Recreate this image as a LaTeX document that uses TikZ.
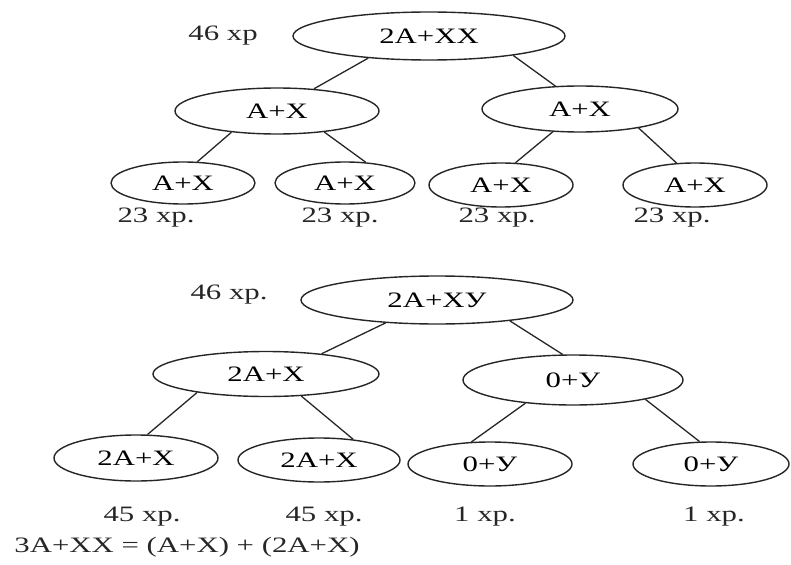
\documentclass[tikz,border=0pt]{standalone}
\usepackage{fontspec}
\setmainfont[FakeStretch=1.4]{Liberation Serif}
\usetikzlibrary{shapes.geometric, positioning}

\begin{document}
\begin{tikzpicture}[
      x=1pt, y=-1pt,
      font=\fontsize{22}{26}\selectfont,
      set/.style={ellipse, draw=black!85, line width=1.4pt, inner sep=0pt},
      link/.style={draw=black!85, line width=1.3pt},
      count/.style={inner sep=0pt, text=black!85}
  ]
  \useasboundingbox (0,0) rectangle (791,564);

  % female: 2A+XX
  \node[count] (n1) at (223,36) {46 хр};
  \node[set, minimum width=272pt, minimum height=48pt] (r1) at (429,36) {2A+XX};
  \node[set, minimum width=204pt, minimum height=46pt] (a1) at (277,111) {A+X};
  \node[set, minimum width=196pt, minimum height=46pt] (a2) at (580,109) {A+X};
  \node[set, minimum width=144pt, minimum height=42pt] (b1) at (183,183) {A+X};
  \node[set, minimum width=140pt, minimum height=42pt] (b2) at (345,183) {A+X};
  \node[set, minimum width=144pt, minimum height=44pt] (b3) at (501,185) {A+X};
  \node[set, minimum width=144pt, minimum height=44pt] (b4) at (695,185) {A+X};
  \node[count] (c1) at (156,218) {23 хр.};
  \node[count] (c2) at (340,218) {23 хр.};
  \node[count] (c3) at (497,218) {23 хр.};
  \node[count] (c4) at (672,218) {23 хр.};

  \draw[link] (r1.200) -- (a1.31);
  \draw[link] (r1.347) -- (a2.137);
  \draw[link] (a1.205) -- (b1.56);
  \draw[link] (a1.336) -- (b2.45);
  \draw[link] (a2.220) -- (b3.57);
  \draw[link] (a2.342) -- (b4.130);

  % male: 2A+XY
  \node[count] (n2) at (229,295) {46 хр.};
  \node[set, minimum width=272pt, minimum height=48pt] (r2) at (437,300) {2A+XУ};
  \node[set, minimum width=226pt, minimum height=45pt] (d1) at (266,374) {2A+X};
  \node[set, minimum width=220pt, minimum height=50pt] (d2) at (573,380) {0+У};
  \node[set, minimum width=164pt, minimum height=46pt] (e1) at (136,458) {2A+X};
  \node[set, minimum width=162pt, minimum height=44pt] (e2) at (319,460) {2A+X};
  \node[set, minimum width=164pt, minimum height=44pt] (e3) at (490,464) {0+У};
  \node[set, minimum width=156pt, minimum height=44pt] (e4) at (711,464) {0+У};
  \node[count] (f1) at (142,517) {45 хр.};
  \node[count] (f2) at (324,517) {45 хр.};
  \node[count] (f3) at (485,517) {1 хр.};
  \node[count] (f4) at (714,517) {1 хр.};

  \draw[link] (r2.204) -- (d1.20);
  \draw[link] (r2.344) -- (d2.112);
  \draw[link] (d1.195) -- (e1.64);
  \draw[link] (d1.328) -- (e2.31);
  \draw[link] (d2.206) -- (e3.130);
  \draw[link] (d2.345) -- (e4.117);

  \node[count] (sum) at (187,547) {3A+XX = (A+X) + (2A+X)};
\end{tikzpicture}
\end{document}
